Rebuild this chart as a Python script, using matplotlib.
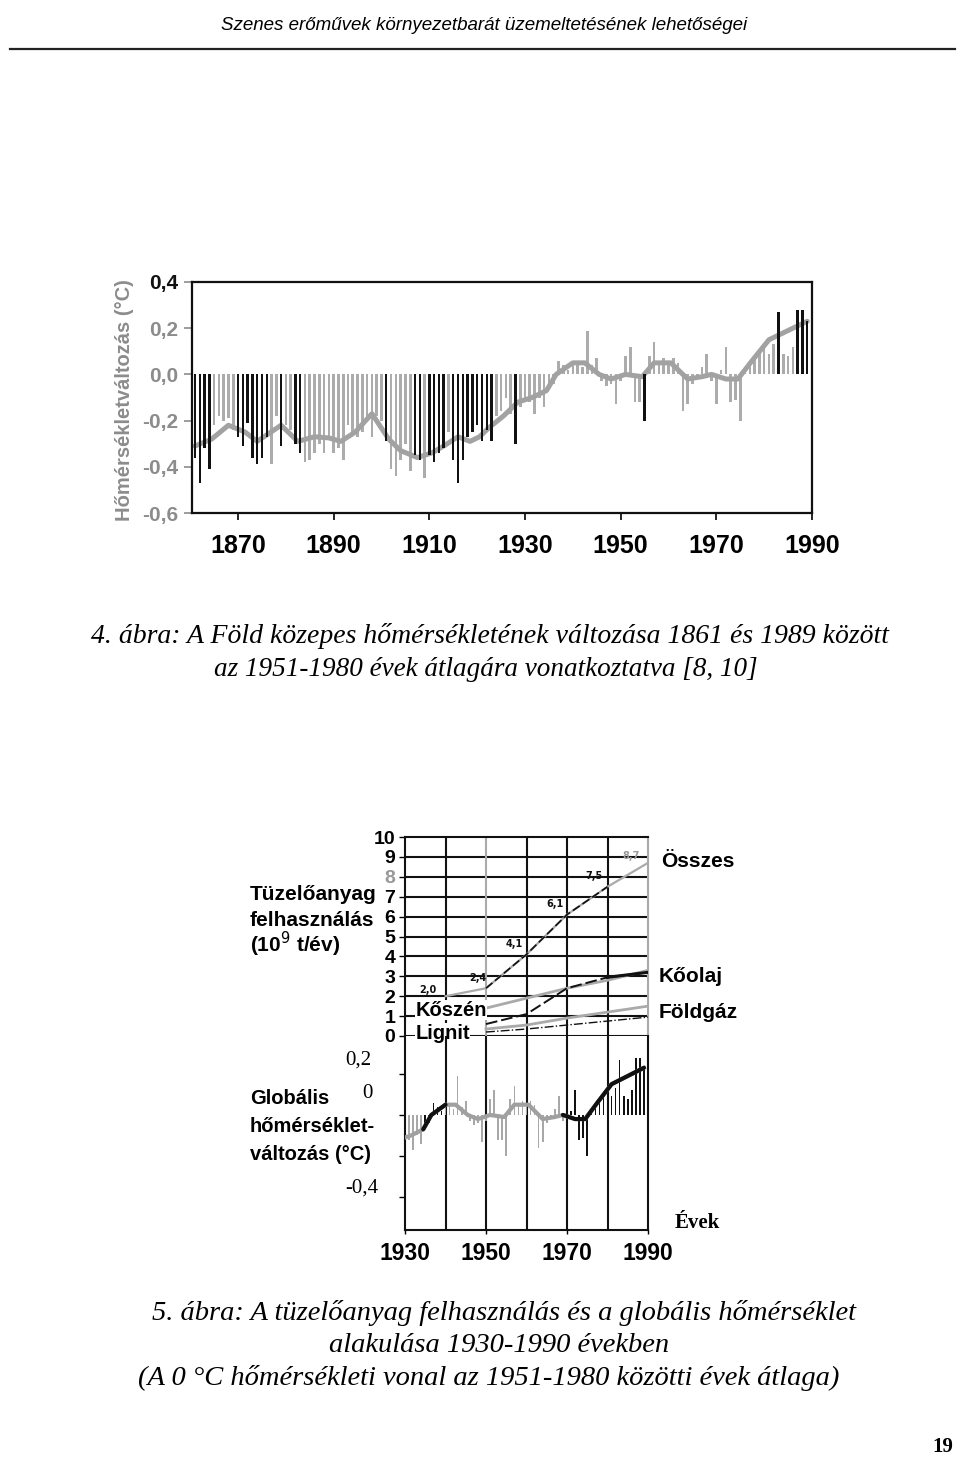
import numpy as np
import matplotlib
matplotlib.use("Agg")
import matplotlib.pyplot as plt

# page size in pixels
W, H = 960, 1468

SANS = ['Liberation Sans', 'DejaVu Sans']
SERIF = ['Liberation Serif', 'DejaVu Serif']
DARK = '#111111'

# annual temperature anomaly (deg C, relative to 1951-1980)
years = list(range(1861, 1990))
temps = [-0.36, -0.47, -0.32, -0.41, -0.22, -0.18, -0.20, -0.19, -0.24, -0.27,
         -0.31, -0.21, -0.36, -0.39, -0.36, -0.27, -0.39, -0.18, -0.31, -0.22,
         -0.24, -0.30, -0.34, -0.38, -0.37, -0.34, -0.30, -0.34, -0.28, -0.34,
         -0.32, -0.37, -0.22, -0.25, -0.27, -0.25, -0.18, -0.27, -0.18, -0.20,
         -0.29, -0.41, -0.44, -0.37, -0.30, -0.42, -0.35, -0.37, -0.45, -0.35,
         -0.38, -0.34, -0.32, -0.25, -0.37, -0.47, -0.37, -0.27, -0.25, -0.22,
         -0.29, -0.24, -0.29, -0.18, -0.16, -0.10, -0.17, -0.30, -0.14, -0.10,
         -0.12, -0.17, -0.10, -0.14, -0.06, -0.04, 0.06, 0.04, 0.02, 0.05,
         0.06, 0.03, 0.19, 0.04, 0.07, -0.03, -0.05, -0.04, -0.13, -0.03,
         0.08, 0.12, -0.12, -0.12, -0.20, 0.08, 0.14, 0.05, 0.07, 0.05,
         0.07, 0.05, -0.16, -0.13, -0.04, -0.02, 0.03, 0.09, -0.03, -0.13,
         0.02, 0.12, -0.12, -0.11, -0.20, 0.03, 0.06, 0.07, 0.10, 0.12,
         0.09, 0.13, 0.27, 0.09, 0.08, 0.12, 0.28, 0.28, 0.23]
# bars printed black in the scan (the rest are grey)
dark_years = [1861, 1862, 1863, 1864, 1870, 1871, 1872, 1873, 1874, 1875, 1876,
              1879, 1882, 1883, 1901, 1907, 1908, 1910, 1911, 1912, 1913, 1915,
              1916, 1917, 1918, 1919, 1920, 1921, 1922, 1923, 1928, 1955,
              1983, 1987, 1988, 1989]

# smoothed curve
smooth_years = [1861, 1864.5, 1868, 1871.5, 1874, 1879, 1882.5, 1886, 1889, 1891.5,
                1894.5, 1898, 1901.5, 1904, 1907.5, 1910.5, 1913, 1916, 1918.5,
                1920.5, 1922.5, 1925.5, 1928.5, 1931.5, 1934.5, 1936.5, 1940,
                1942.5, 1945.5, 1948, 1951, 1954.5, 1957, 1960.5, 1964, 1967,
                1969, 1972, 1974.5, 1977.5, 1981, 1985, 1989]
smooth_vals = [-0.31, -0.28, -0.22, -0.25, -0.29, -0.22, -0.29, -0.27, -0.275, -0.29,
               -0.25, -0.17, -0.28, -0.33, -0.36, -0.34, -0.31, -0.27, -0.29,
               -0.27, -0.23, -0.18, -0.12, -0.10, -0.07, 0.0, 0.05,
               0.05, 0.0, -0.02, 0.0, -0.01, 0.05, 0.05, -0.02, -0.01,
               0.0, -0.02, -0.02, 0.06, 0.15, 0.19, 0.23]

# fuel use (10^9 t/year)
total_years = [1940, 1950, 1960, 1970, 1980, 1990]
total_vals = [2.0, 2.4, 4.1, 6.1, 7.5, 8.7]
total_labels = ['2,0', '2,4', '4,1', '6,1', '7,5', '8,7']
fuel_years = [1950, 1960, 1970, 1980, 1990]
coal = [1.4, 1.9, 2.4, 2.8, 3.3]
oil = [0.6, 1.1, 2.4, 2.95, 3.2]
gas = [0.35, 0.55, 0.9, 1.2, 1.5]
lignite = [0.2, 0.35, 0.55, 0.75, 0.95]


def box(x0, y0, x1, y1):
    return [x0 / W, 1 - y1 / H, (x1 - x0) / W, (y1 - y0) / H]


def txt(x, y, s, **kw):
    fig.text(x / W, 1 - y / H, s, **kw)


fig = plt.figure(figsize=(W / 100, H / 100), dpi=100)

# page header
txt(484, 26, 'Szenes erőművek környezetbarát üzemeltetésének lehetőségei',
    family=SANS, style='italic', fontsize=13.5, ha='center', va='center')
fig.add_artist(plt.Line2D([10 / W, 955 / W], [1 - 49 / H, 1 - 49 / H], color='#222', lw=1.6))

# ---- figure 4: temperature 1861-1989 ----
ax1 = fig.add_axes(box(192, 282, 812, 513))
ax1.set_xlim(1860.38, 1990)
ax1.set_ylim(-0.6, 0.4)
yr = np.array(years)
tv = np.array(temps)
is_dark = np.isin(yr, dark_years)
ax1.bar(yr[~is_dark], tv[~is_dark], width=0.55, color='#acacac', lw=0, zorder=1)
ax1.plot(smooth_years, smooth_vals, color='#a2a2a2', lw=3.6, solid_joinstyle='round',
         solid_capstyle='round', zorder=2)
ax1.bar(yr[is_dark], tv[is_dark], width=0.5, color=DARK, lw=0, zorder=3)
for sp in ax1.spines.values():
    sp.set_linewidth(1.6)
    sp.set_color(DARK)
ax1.set_yticks([0.4, 0.2, 0.0, -0.2, -0.4, -0.6])
ax1.set_yticklabels(['0,4', '0,2', '0,0', '-0,2', '-0,4', '-0,6'], family=SANS,
                    fontweight='bold', fontsize=15, color='#8c8c8c')
ax1.get_yticklabels()[0].set_color(DARK)
ax1.tick_params(axis='y', length=6, width=1.2, pad=4, color='#8c8c8c')
ax1.set_xticks(range(1870, 1991, 20))
ax1.set_xticklabels([str(y) for y in range(1870, 1991, 20)], family=SANS,
                    fontweight='bold', fontsize=18)
ax1.tick_params(axis='x', length=5, width=1.2, pad=10)
txt(124, 400, 'Hőmérsékletváltozás (°C)', rotation=90, ha='center', va='center',
    family=SANS, fontweight='bold', fontsize=14.5, color='#8c8c8c')

txt(490, 636, '4. ábra: A Föld közepes hőmérsékletének változása 1861 és 1989 között',
    family=SERIF, style='italic', fontsize=20, ha='center', va='center')
txt(486, 670, 'az 1951-1980 évek átlagára vonatkoztatva [8, 10]',
    family=SERIF, style='italic', fontsize=19.5, ha='center', va='center')

# ---- figure 5: fuel use and temperature 1930-1990 ----
axf = fig.add_axes(box(405, 837, 648, 1036))
axf.set_xlim(1930, 1990)
axf.set_ylim(0, 10)
axf.patch.set_alpha(0)
for v in range(0, 10):
    axf.axhline(v, color=DARK, lw=1.5, zorder=1)
for x, c in zip([1940, 1950, 1960, 1970, 1980], [DARK, '#aaaaaa', DARK, DARK, DARK]):
    axf.axvline(x, color=c, lw=1.5, zorder=1)
axf.spines['bottom'].set_visible(False)
axf.spines['top'].set_color(DARK)
axf.spines['left'].set_color(DARK)
axf.spines['right'].set_color('#aaaaaa')
for sp in axf.spines.values():
    sp.set_linewidth(1.5)
axf.set_xticks([])
axf.set_yticks(range(0, 11))
axf.set_yticklabels([str(v) for v in range(0, 11)], family=SANS, fontweight='bold',
                    fontsize=14)
axf.get_yticklabels()[8].set_color('#999999')
axf.tick_params(axis='y', length=4, width=1, pad=3)

axf.plot(total_years, total_vals, color='#aaaaaa', lw=1.6, zorder=3)
axf.plot(total_years[1:5], total_vals[1:5], color=DARK, lw=1.2, ls=(0, (5, 2)), zorder=4)
axf.plot(fuel_years, coal, color='#aaaaaa', lw=2, zorder=3)
axf.plot(fuel_years, oil, color=DARK, lw=1.4, ls=(0, (6, 2)), zorder=4)
axf.plot(fuel_years[3:], oil[3:], color=DARK, lw=2.2, zorder=4)
axf.plot(fuel_years, gas, color='#aaaaaa', lw=2, zorder=3)
axf.plot(fuel_years, lignite, color=DARK, lw=1, ls='-.', zorder=3)
offsets = [(-13, 1), (-6, 4), (-9, 4), (-9, 4), (-10, 4), (-12, 1)]
for x, v, s, (dx, dy) in zip(total_years, total_vals, total_labels, offsets):
    axf.annotate(s, (x, v), xytext=(dx, dy), textcoords='offset points', fontsize=7,
                 fontweight='bold', ha='center', va='bottom',
                 color='#999999' if s == '8,7' else DARK, zorder=5)
axf.text(1932.5, 1.3, 'Kőszén', family=SANS, fontweight='bold', fontsize=14.5,
         va='center', ha='left', zorder=6,
         bbox=dict(facecolor='white', edgecolor='none', pad=0.5))
axf.text(1932.5, 0.15, 'Lignit', family=SANS, fontweight='bold', fontsize=14.5,
         va='center', ha='left', zorder=6,
         bbox=dict(facecolor='white', edgecolor='none', pad=0.5))

axt = fig.add_axes(box(405, 1036, 648, 1230))
axt.set_xlim(1930, 1990)
axt.set_ylim(-0.561, 0.385)
axt.patch.set_alpha(0)
for x in [1940, 1950, 1960, 1970, 1980]:
    axt.axvline(x, color=DARK, lw=1.5, zorder=1)
axt.spines['top'].set_visible(False)
for sp in axt.spines.values():
    sp.set_linewidth(1.5)
    sp.set_color(DARK)
sel = yr >= 1930
by = yr[sel]
bv = tv[sel]
bdark = (by >= 1970) | ((by >= 1935) & (by <= 1939))
axt.bar(by[~bdark], bv[~bdark], width=0.4, color='#a8a8a8', lw=0, zorder=2)
axt.bar(by[bdark], bv[bdark], width=0.4, color=DARK, lw=0, zorder=2)
sy = np.array(smooth_years)
sv = np.array(smooth_vals)
m = sy >= 1928.5
axt.plot(sy[m], sv[m], color='#a0a0a0', lw=3, solid_joinstyle='round', zorder=3)
for lo, hi in [(1934.5, 1940), (1969, 1990)]:
    mm = (sy >= lo) & (sy <= hi)
    axt.plot(sy[mm], sv[mm], color=DARK, lw=3, solid_joinstyle='round',
             solid_capstyle='round', zorder=4)
axt.set_yticks([0.2, 0.0, -0.2, -0.4])
axt.set_yticklabels([])
axt.tick_params(axis='y', length=4, width=1)
axt.set_xticks([1930, 1950, 1970, 1990])
axt.set_xticklabels(['1930', '1950', '1970', '1990'], family=SANS, fontweight='bold',
                    fontsize=16.5)
axt.tick_params(axis='x', length=3, width=1, pad=6)

# temperature scale labels (printed slightly above the ticks in the original)
for x, y, s in [(371, 1060, '0,2'), (373, 1094, '0'), (378, 1188, '-0,4')]:
    txt(x, y, s, family=SERIF, fontsize=15, ha='right', va='center')

for y, s in [(895, 'Tüzelőanyag'), (920, 'felhasználás'), (944, '(10$^9$ t/év)')]:
    txt(250, y, s, family=SANS, fontweight='bold', fontsize=15, ha='left', va='center')
for y, s in [(1099, 'Globális'), (1126, 'hőmérséklet-'), (1155, 'változás (°C)')]:
    txt(250, y, s, family=SANS, fontweight='bold', fontsize=14.5, ha='left', va='center')

txt(661, 862, 'Összes', family=SANS, fontweight='bold', fontsize=15, ha='left', va='center')
txt(659, 977, 'Kőolaj', family=SANS, fontweight='bold', fontsize=15, ha='left', va='center')
txt(659, 1012, 'Földgáz', family=SANS, fontweight='bold', fontsize=15, ha='left', va='center')
txt(675, 1223, 'Évek', family=SERIF, fontweight='bold', fontsize=15, ha='left', va='center')

txt(504, 1313, '5. ábra: A tüzelőanyag felhasználás és a globális hőmérséklet',
    family=SERIF, style='italic', fontsize=20.5, ha='center', va='center')
txt(499, 1345, 'alakulása 1930-1990 években',
    family=SERIF, style='italic', fontsize=20.5, ha='center', va='center')
txt(489, 1378, '(A 0 °C hőmérsékleti vonal az 1951-1980 közötti évek átlaga)',
    family=SERIF, style='italic', fontsize=20.5, ha='center', va='center')

txt(943, 1447, '19', family=SERIF, fontweight='bold', fontsize=15, ha='center', va='center')

fig.savefig('out.png', dpi=100, facecolor='white')
